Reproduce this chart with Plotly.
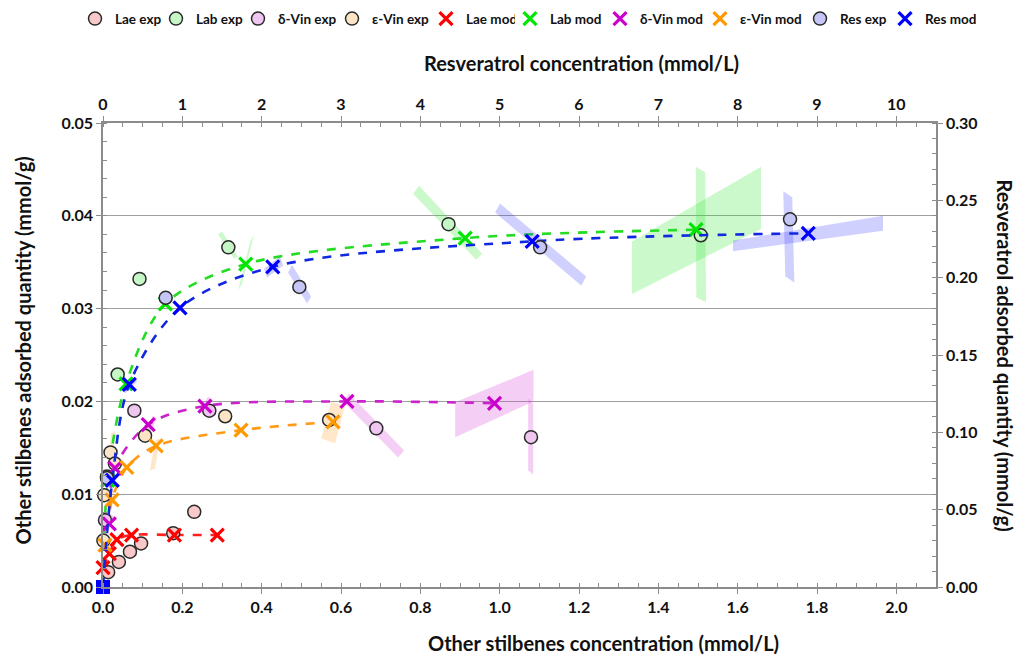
import plotly.graph_objects as go

# ---------------- data (other stilbenes: bottom / left axes) ----------------
lae_exp_x = [0.013, 0.040, 0.068, 0.096, 0.177, 0.230]
lae_exp_y = [0.0016, 0.0027, 0.0038, 0.0047, 0.0058, 0.0081]
lae_mod_x = [0.000, 0.016, 0.035, 0.072, 0.180, 0.288]
lae_mod_y = [0.0021, 0.0036, 0.0051, 0.0056, 0.0056, 0.0056]

lab_exp_x = [0.010, 0.037, 0.092, 0.316, 0.871, 1.507]
lab_exp_y = [0.0119, 0.0229, 0.0332, 0.0366, 0.0391, 0.0379]
lab_mod_x = [0.012, 0.058, 0.157, 0.360, 0.913, 1.495]
lab_mod_y = [0.0115, 0.0219, 0.0305, 0.0348, 0.0376, 0.0385]

dvin_exp_x = [0.005, 0.079, 0.268, 0.689, 1.079]
dvin_exp_y = [0.0072, 0.0190, 0.0190, 0.0171, 0.01615]
dvin_mod_x = [0.016, 0.030, 0.114, 0.257, 0.615, 0.987]
dvin_mod_y = [0.0068, 0.0128, 0.0175, 0.0195, 0.0200, 0.0198]

evin_exp_x = [0.001, 0.003, 0.019, 0.030, 0.106, 0.308, 0.570]
evin_exp_y = [0.0050, 0.0099, 0.0145, 0.0133, 0.0163, 0.0184, 0.0180]
evin_mod_x = [0.005, 0.023, 0.060, 0.134, 0.348, 0.580]
evin_mod_y = [0.0045, 0.0094, 0.0129, 0.0152, 0.0169, 0.0178]

# ---------------- data (resveratrol: top / right axes) ----------------
res_exp_x = [0.05, 0.79, 2.475, 5.51, 8.66]
res_exp_y = [0.0705, 0.187, 0.194, 0.2196, 0.2377]
res_mod_x = [0.0, 0.117, 0.332, 0.971, 2.14, 5.41, 8.89]
res_mod_y = [0.0, 0.0689, 0.131, 0.1805, 0.207, 0.2235, 0.2287]

# ---------------- uncertainty regions (corner values, data units) ----------------
lab_regions = [
    ([0.290, 0.300, 0.340, 0.330], [0.0380, 0.0383, 0.0356, 0.0354]),
    ([0.3405, 0.3506, 0.3808, 0.3707], [0.03194, 0.0327, 0.0380, 0.03711]),
    ([0.7818, 0.797, 0.956, 0.9407], [0.04238, 0.04323, 0.03592, 0.03527]),
    ([1.3335, 1.6588, 1.6588, 1.3335], [0.03724, 0.04529, 0.03858, 0.03158]),
    ([1.4948, 1.5183, 1.520, 1.4956], [0.04529, 0.04467, 0.03068, 0.03122]),
]
res_regions = [
    ([2.333, 2.383, 2.623, 2.573], [0.2033, 0.2084, 0.1878, 0.1833]),
    ([2.030, 2.232, 2.270, 2.068], [0.2059, 0.2136, 0.2078, 0.2001]),
    ([4.943, 5.006, 6.091, 6.028], [0.2421, 0.2479, 0.2007, 0.1949]),
    ([8.575, 8.688, 8.714, 8.600], [0.2559, 0.2520, 0.1968, 0.2007]),
    ([7.941, 9.832, 9.832, 7.941], [0.2240, 0.2401, 0.2304, 0.2171]),
    ([0.2396, 0.3909, 0.4288, 0.2774], [0.1271, 0.1355, 0.1329, 0.1251]),
    ([0.0378, 0.1387, 0.1892, 0.0883], [0.0657, 0.0734, 0.0715, 0.0638]),
]
dvin_regions = [
    ([0.8878, 1.0853, 1.0853, 0.8878], [0.01991, 0.02340, 0.01999, 0.01615]),
    ([1.0719, 1.0845, 1.0845, 1.0719], [0.02031, 0.01977, 0.01213, 0.01256]),
    ([0.6053, 0.6204, 0.7591, 0.7440], [0.01999, 0.02085, 0.01471, 0.01396]),
    ([0.1059, 0.1261, 0.1362, 0.1160], [0.01687, 0.01848, 0.01816, 0.01654]),
    ([0.2446, 0.2648, 0.2749, 0.2547], [0.01902, 0.02053, 0.02020, 0.01869]),
    ([0.0025, 0.0202, 0.0277, 0.0101], [0.00600, 0.00783, 0.00761, 0.00567]),
]
evin_regions = [
    ([0.1185, 0.1311, 0.1438, 0.1311], [0.01256, 0.01579, 0.01601, 0.01278]),
    ([0.0151, 0.0202, 0.0303, 0.0252], [0.01396, 0.01654, 0.01676, 0.01418]),
    ([0.0101, 0.0202, 0.0303, 0.0202], [0.00804, 0.01041, 0.01063, 0.00826]),
    ([0.0000, 0.0000, 0.0101, 0.0025], [0.00449, 0.00610, 0.00632, 0.00470]),
    ([0.290, 0.310, 0.3228, 0.3026], [0.01794, 0.01902, 0.01870, 0.01762]),
    ([0.550, 0.575, 0.610, 0.585], [0.0160, 0.0200, 0.0195, 0.0155]),
]

# axis titles
title_top = "Resveratrol concentration (mmol/L)"
title_bottom = "Other stilbenes concentration (mmol/L)"
title_left = "Other stilbenes adsorbed quantity (mmol/g)"
title_right = "Resveratrol adsorbed quantity (mmol/g)"

FONT = "Lato"
fig = go.Figure()

def add_regions(regions, color, xa="x", ya="y"):
    for xs, ys in regions:
        fig.add_trace(go.Scatter(x=xs + [xs[0]], y=ys + [ys[0]], xaxis=xa, yaxis=ya,
                                 mode="lines", fill="toself", fillcolor=color,
                                 line=dict(width=0), hoverinfo="skip", showlegend=False))

add_regions(lab_regions, "rgba(40,230,40,0.24)")
add_regions(dvin_regions, "rgba(215,60,215,0.25)")
add_regions(evin_regions, "rgba(255,160,40,0.25)")
add_regions(res_regions, "rgba(60,60,255,0.24)", "x2", "y2")

def add_line(xs, ys, color, xa="x", ya="y"):
    fig.add_trace(go.Scatter(x=xs, y=ys, xaxis=xa, yaxis=ya, mode="lines",
                             line=dict(color=color, width=2.6, dash="dash", shape="spline", smoothing=0.9),
                             hoverinfo="skip", showlegend=False))

add_line([0.0] + lab_mod_x, [0.0] + lab_mod_y, "#22DD22")
add_line(res_mod_x, res_mod_y, "#1028E0", "x2", "y2")
add_line(dvin_mod_x, dvin_mod_y, "#CC22CC")
add_line(evin_mod_x, evin_mod_y, "#FF9A1A")
add_line(lae_mod_x, lae_mod_y, "#FF2020")

def add_exp(name, xs, ys, fill, rank, lw, leg, xa="x", ya="y"):
    fig.add_trace(go.Scatter(x=xs, y=ys, xaxis=xa, yaxis=ya, mode="markers", name=name,
                             legendrank=rank, legendwidth=lw, legend=leg,
                             marker=dict(symbol="circle", size=13, color=fill,
                                         line=dict(color="#2a2a2a", width=1.5))))

def add_mod(name, xs, ys, color, rank, lw, leg, xa="x", ya="y"):
    fig.add_trace(go.Scatter(x=xs, y=ys, xaxis=xa, yaxis=ya, mode="markers", name=name,
                             legendrank=rank, legendwidth=lw, legend=leg,
                             marker=dict(symbol="x-thin", size=13, color=color,
                                         line=dict(color=color, width=3.2))))

add_exp("Lae exp", lae_exp_x, lae_exp_y, "#F9C9C9", 1, 36, "legend")
add_exp("Lab exp", lab_exp_x, lab_exp_y, "#C6F6C6", 2, 37, "legend")
add_exp("δ-Vin exp", dvin_exp_x, dvin_exp_y, "#EFC6EF", 3, 49, "legend")
add_exp("ε-Vin exp", evin_exp_x, evin_exp_y, "#FCE4C6", 4, 49, "legend")
add_exp("Res exp", res_exp_x, res_exp_y, "#C6C6F6", 9, 40, "legend2", "x2", "y2")
add_mod("Lae mod", lae_mod_x, lae_mod_y, "#FF0000", 5, 44, "legend")
add_mod("Lab mod", lab_mod_x, lab_mod_y, "#00E600", 6, 45, "legend2")
add_mod("δ-Vin mod", dvin_mod_x, dvin_mod_y, "#CC00CC", 7, 55, "legend2")
add_mod("ε-Vin mod", evin_mod_x, evin_mod_y, "#FF9900", 8, 55, "legend2")
add_mod("Res mod", res_mod_x[1:], res_mod_y[1:], "#0000FF", 10, 46, "legend2", "x2", "y2")
fig.add_trace(go.Scatter(x=res_mod_x[:1], y=res_mod_y[:1], xaxis="x2", yaxis="y2", mode="markers",
                         marker=dict(symbol="square", size=14, color="#0000FF"),
                         showlegend=False, hoverinfo="skip"))

for tr in fig.data:
    tr.cliponaxis = False

axis_common = dict(showline=True, linecolor="#8c8c8c", linewidth=1.5, zeroline=False,
                   ticks="outside", ticklen=5, tickcolor="#8c8c8c", tickwidth=1.3,
                   tickfont=dict(family=FONT, size=16, color="#111", weight="bold"))
title_font = dict(family=FONT, size=20, color="#111", weight="bold")
legend_font = dict(family=FONT, size=13.5, color="#111", weight="bold")

fig.update_layout(
    width=1025, height=657,
    margin=dict(l=103, r=89, t=123, b=70),
    paper_bgcolor="white", plot_bgcolor="white",
    font=dict(family=FONT, color="#111"),
    xaxis=dict(range=[0, 2.1], tickmode="linear", tick0=0, dtick=0.2, tickformat=".1f",
               showgrid=False, side="bottom", anchor="y",
               minor=dict(ticks="inside", dtick=0.05, ticklen=4, tickcolor="#8c8c8c", showgrid=False),
               **axis_common),
    yaxis=dict(range=[0, 0.05], tickmode="linear", tick0=0, dtick=0.01, tickformat=".2f",
               showgrid=True, gridcolor="#a0a0a0", gridwidth=1.3, anchor="x",
               minor=dict(ticks="inside", dtick=0.002, ticklen=4, tickcolor="#8c8c8c", showgrid=False),
               **axis_common),
    xaxis2=dict(range=[0, 10.5], tickmode="linear", tick0=0, dtick=1, tickformat="d",
                showgrid=False, side="top", overlaying="x", anchor="y2",
                minor=dict(ticks="inside", dtick=0.25, ticklen=4, tickcolor="#8c8c8c", showgrid=False),
                **axis_common),
    yaxis2=dict(range=[0, 0.30], tickmode="linear", tick0=0, dtick=0.05, tickformat=".2f",
                showgrid=False, side="right", overlaying="y", anchor="x2",
                minor=dict(ticks="inside", dtick=0.01, ticklen=4, tickcolor="#8c8c8c", showgrid=False),
                **axis_common),
    legend=dict(orientation="h", xref="container", yref="container", x=75 / 1025, xanchor="left",
                y=0.995, yanchor="top", itemwidth=30, font=legend_font, bgcolor="rgba(0,0,0,0)"),
    legend2=dict(orientation="h", xref="container", yref="container", x=510 / 1025, xanchor="left",
                 y=0.995, yanchor="top", itemwidth=30, font=legend_font, bgcolor="rgba(0,0,0,0)"),
    annotations=[
        dict(text=title_top, xref="paper", yref="paper", x=0.575, y=1.1287, showarrow=False,
             xanchor="center", yanchor="middle", font=title_font),
        dict(text=title_bottom, xref="paper", yref="paper", x=0.601, y=-0.121, showarrow=False,
             xanchor="center", yanchor="middle", font=title_font),
        dict(text=title_left, xref="paper", yref="paper", x=-0.096, y=0.51, showarrow=False,
             xanchor="center", yanchor="middle", textangle=-90, font=title_font),
        dict(text=title_right, xref="paper", yref="paper", x=1.0828, y=0.499, showarrow=False,
             xanchor="center", yanchor="middle", textangle=90, font=title_font),
    ],
)

fig.write_html("out.html")
